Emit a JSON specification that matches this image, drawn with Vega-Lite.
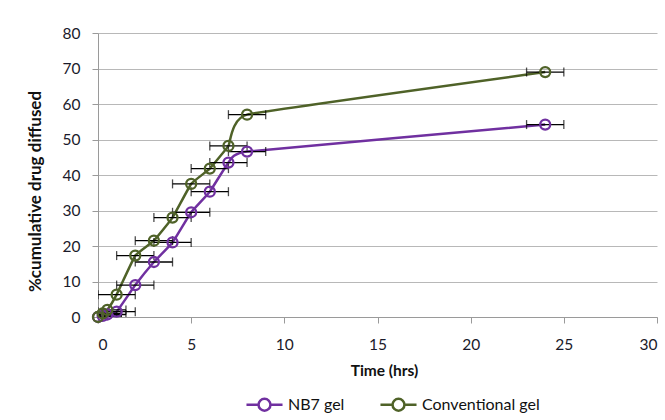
{
  "$schema": "https://vega.github.io/schema/vega-lite/v6.json",
  "width": 559,
  "height": 284,
  "autosize": "none",
  "padding": {"left": 98, "top": 33, "right": 8, "bottom": 103},
  "background": "white",
  "config": {
    "font": "Lato",
    "view": {"stroke": null},
    "axis": {"labelFont": "Lato", "titleFont": "Lato", "labelFontSize": 15.5, "labelColor": "#1a1a2a", "titleColor": "#111", "titleFontWeight": "bold", "domainColor": "#9a9a9a", "tickColor": "#9a9a9a", "gridColor": "#b8b8b8", "tickSize": 6, "labelOverlap": false}
  },
  "data": {
    "values": [
      {"series": "NB7 gel", "time": 0, "value": 0, "lo": -1, "hi": 1},
      {"series": "NB7 gel", "time": 0.25, "value": 0.3, "lo": -0.75, "hi": 1.25},
      {"series": "NB7 gel", "time": 0.5, "value": 0.7, "lo": -0.5, "hi": 1.5},
      {"series": "NB7 gel", "time": 1, "value": 1.5, "lo": 0, "hi": 2},
      {"series": "NB7 gel", "time": 2, "value": 9, "lo": 1, "hi": 3},
      {"series": "NB7 gel", "time": 3, "value": 15.5, "lo": 2, "hi": 4},
      {"series": "NB7 gel", "time": 4, "value": 21, "lo": 3, "hi": 5},
      {"series": "NB7 gel", "time": 5, "value": 29.5, "lo": 4, "hi": 6},
      {"series": "NB7 gel", "time": 6, "value": 35.3, "lo": 5, "hi": 7},
      {"series": "NB7 gel", "time": 7, "value": 43.5, "lo": 6, "hi": 8},
      {"series": "NB7 gel", "time": 8, "value": 46.6, "lo": 7, "hi": 9},
      {"series": "NB7 gel", "time": 24, "value": 54.2, "lo": 23, "hi": 25},
      {"series": "Conventional gel", "time": 0, "value": 0, "lo": -1, "hi": 1},
      {"series": "Conventional gel", "time": 0.25, "value": 1, "lo": -0.75, "hi": 1.25},
      {"series": "Conventional gel", "time": 0.5, "value": 2, "lo": -0.5, "hi": 1.5},
      {"series": "Conventional gel", "time": 1, "value": 6.3, "lo": 0, "hi": 2},
      {"series": "Conventional gel", "time": 2, "value": 17.3, "lo": 1, "hi": 3},
      {"series": "Conventional gel", "time": 3, "value": 21.5, "lo": 2, "hi": 4},
      {"series": "Conventional gel", "time": 4, "value": 28, "lo": 3, "hi": 5},
      {"series": "Conventional gel", "time": 5, "value": 37.5, "lo": 4, "hi": 6},
      {"series": "Conventional gel", "time": 6, "value": 41.8, "lo": 5, "hi": 7},
      {"series": "Conventional gel", "time": 7, "value": 48.2, "lo": 6, "hi": 8},
      {"series": "Conventional gel", "time": 8, "value": 57, "lo": 7, "hi": 9},
      {"series": "Conventional gel", "time": 24, "value": 69, "lo": 23, "hi": 25}
    ]
  },
  "encoding": {
    "y": {"field": "value", "type": "quantitative", "scale": {"domain": [0, 80], "nice": false}, "axis": {"title": "%cumulative drug diffused", "titleFontSize": 17, "titleY": 158, "values": [0,10,20,30,40,50,60,70,80], "labelPadding": 12, "titlePadding": 18, "grid": true}}
  },
  "layer": [
    {
      "mark": {"type": "line", "interpolate": "cardinal", "tension": 0.7, "strokeWidth": 2.5},
      "encoding": {
        "x": {"field": "time", "type": "quantitative", "scale": {"domain": [0, 30], "nice": false}, "axis": {"title": "Time (hrs)", "titleFontSize": 15.5, "titleX": 286, "values": [0,5,10,15,20,25,30], "grid": false, "labelPadding": 14, "titlePadding": 11}},
        "color": {"field": "series", "type": "nominal", "scale": {"domain": ["NB7 gel", "Conventional gel"], "range": ["#7030A0", "#4F6228"]},
          "legend": {"orient": "none", "legendX": 147, "legendY": 352, "padding": 0, "title": null, "direction": "horizontal", "symbolType": "M-1,0H-0.33M0.33,0H1M0.33,0A0.33,0.33 0 1,1 -0.33,0A0.33,0.33 0 1,1 0.33,0", "symbolSize": 1300, "symbolStrokeWidth": 2.5, "symbolFillColor": "white", "labelFontSize": 16, "labelColor": "#111", "labelFont": "Lato", "columnPadding": 30, "labelOffset": 4}}
      }
    },
    {
      "mark": {"type": "rule", "color": "black", "strokeWidth": 1.3, "clip": true},
      "encoding": {
        "x": {"field": "lo", "type": "quantitative"},
        "x2": {"field": "hi"}
      }
    },
    {
      "mark": {"type": "tick", "orient": "vertical", "color": "black", "size": 9, "thickness": 1.3, "clip": true},
      "encoding": {"x": {"field": "lo", "type": "quantitative"}}
    },
    {
      "mark": {"type": "tick", "orient": "vertical", "color": "black", "size": 9, "thickness": 1.3, "clip": true},
      "encoding": {"x": {"field": "hi", "type": "quantitative"}}
    },
    {
      "mark": {"type": "point", "shape": "circle", "filled": false, "fill": "white", "fillOpacity": 0, "size": 100, "strokeWidth": 2.3, "opacity": 1},
      "encoding": {
        "x": {"field": "time", "type": "quantitative"},
        "color": {"field": "series", "type": "nominal"}
      }
    }
  ]
}
